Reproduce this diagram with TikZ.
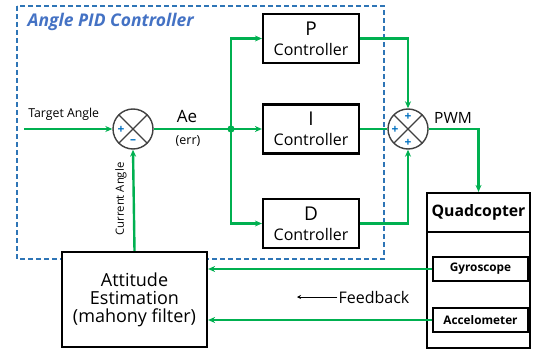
\documentclass[tikz,border=0pt]{standalone}
\usepackage{fontspec}
\setmainfont{Open Sans}
\usetikzlibrary{arrows.meta,calc}
\definecolor{figG}{RGB}{0,176,80}
\definecolor{figB}{RGB}{46,117,182}
\definecolor{figT}{RGB}{68,114,196}
\definecolor{figS}{RGB}{0,112,192}
\newcommand{\fs}[1]{\fontsize{#1}{#1}\selectfont}

\begin{document}
\begin{tikzpicture}[x=1pt,y=-1pt,>={Stealth[length=7pt,width=6pt]},
  blk/.style={draw,fill=white,line width=2.2pt,minimum width=96pt,minimum height=49pt,inner sep=0pt,align=center},
  sumc/.style={draw=black!75,fill=white,line width=1.4pt,circle,minimum size=40pt,inner sep=0pt,
    path picture={\draw[black!75,line width=1.4pt] (path picture bounding box.north west)--(path picture bounding box.south east)
      (path picture bounding box.north east)--(path picture bounding box.south west);}},
  sig/.style={text=figS,font=\bfseries\fs{12},inner sep=0pt},
  wire/.style={figG,line width=2.4pt},
  sbox/.style={draw,line width=1.4pt,minimum width=95pt,minimum height=24pt,inner sep=0pt,font=\bfseries\fs{11.8}}]
\useasboundingbox (0,0) rectangle (534,350);
% controller frame
\draw[figB,line width=1.2pt,dash pattern=on 5pt off 3pt] (17,6) rectangle (384,259);
\node[anchor=west,text=figT,font=\bfseries\itshape\fs{17.5}] (title) at (24,22) {Angle PID Controller};
% summing junctions
\node[sumc] (s1) at (133,129) {};
\node[sig] at ($(s1)+(-12,1)$) {+};
\node[sig] at ($(s1)+(0,13)$) {\textendash};
\node[sumc] (s2) at (408,129) {};
\node[sig] at ($(s2)+(0,-12)$) {+};
\node[sig] at ($(s2)+(-13,1)$) {+};
\node[sig] at ($(s2)+(0,14)$) {+};
% controllers
\node[blk] (P) at (311,38.5) {\fs{19}P\\[7pt]\fs{16}Controller};
\node[blk] (I) at (311,129) {\fs{19}I\\[7pt]\fs{16}Controller};
\node[blk] (D) at (311,223.5) {\fs{19}D\\[7pt]\fs{16}Controller};
% plant
\node[draw,line width=2.2pt,minimum width=103pt,minimum height=116pt,inner sep=0pt] (body) at (478.5,290) {};
\node[draw,line width=2.2pt,minimum width=103pt,minimum height=39pt,inner sep=0pt,font=\bfseries\fs{15.8}] (quad) at (478.5,212.5) {Quadcopter};
\node[sbox] (gyro) at (480.5,269) {Gyroscope};
\node[sbox] (acc) at (480.5,320) {Accelometer};
\node[blk,minimum width=145pt,minimum height=95pt,font=\fs{18},align=center] (att) at (134.5,299.5) {Attitude\\Estimation\\(mahony filter)};
% signals
\coordinate (tgt) at (24,129);
\coordinate (j) at (231,129);
\draw[wire,->] (tgt) -- (s1.west) node[pos=0.45,above=4pt,black,font=\fs{12.3}]{Target Angle};
\draw[wire] (s1.east) -- (j);
\fill[figG] (j) circle (3.6pt);
\node[font=\fs{17}] (ae) at (187,116) {Ae};
\node[font=\fs{12.5}] (err) at (188,141) {(err)};
\draw[wire,->] (j) |- (P.west);
\draw[wire,->] (j) -- (I.west);
\draw[wire,->] (j) |- (D.west);
\draw[wire,->] (P.east) -| (s2.north);
\draw[wire] (I.east) -- (s2.west);
\draw[wire,->] (D.east) -| (s2.south);
\draw[wire,->] (s2.east) -| (quad.north);
\node[font=\fs{15.5}] (pwm) at (453,118) {PWM};
\draw[wire,->] (att.north) -- (s1.south);
\node[rotate=90,font=\fs{11.3}] (cur) at (121,199) {Current Angle};
\draw[wire,->] (gyro.west) -- (gyro.west -| att.east);
\draw[wire,->] (acc.west) -- (acc.west -| att.east);
% feedback note
\node[font=\fs{16},inner sep=1pt] (fb) at (374,297) {Feedback};
\coordinate (fbend) at (297,297);
\draw[-{Stealth[length=4pt,width=4pt]},line width=0.6pt] (fb.west) -- (fbend);
\end{tikzpicture}
\end{document}
